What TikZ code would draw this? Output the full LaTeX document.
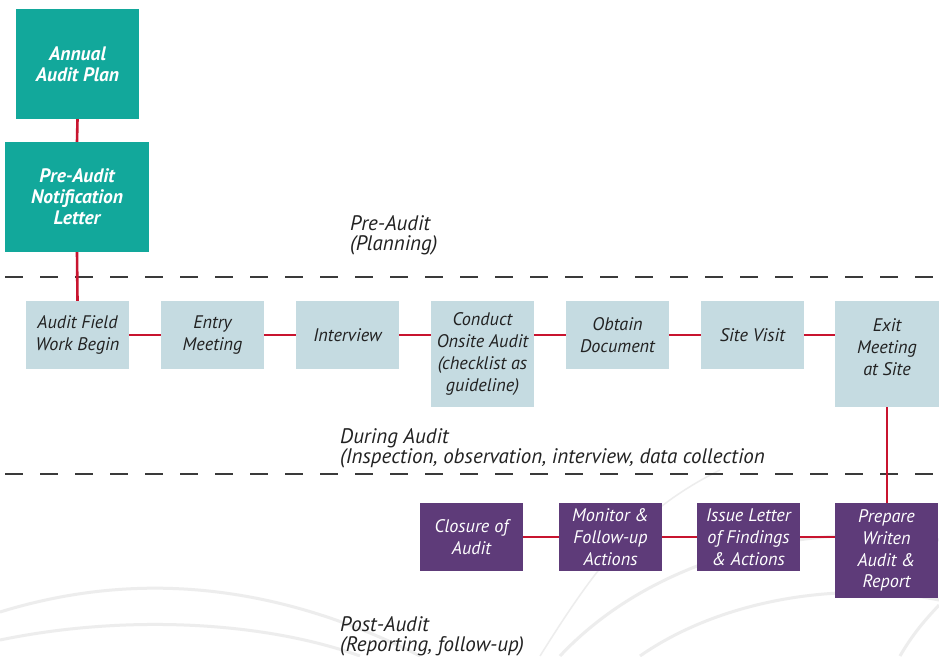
\documentclass[tikz,border=0pt]{standalone}
\usepackage{fontspec}
\setmainfont{PT Sans}
\definecolor{tealbox}{HTML}{12A89B}
\definecolor{bluebox}{HTML}{C5DBE1}
\definecolor{purplebox}{HTML}{5E3B79}
\definecolor{redline}{HTML}{C8142F}
\definecolor{dashgray}{HTML}{3A3A3A}
\definecolor{labelgray}{HTML}{222222}
\definecolor{swirl}{HTML}{EDEDED}
\begin{document}
\begin{tikzpicture}[x=1pt,y=-1pt,
  boxfont/.style={font=\fontsize{18.2}{21.8}\selectfont\itshape},
  tealstep/.style={fill=tealbox, text=white, align=center, inner sep=0pt,
     font=\fontsize{19.5}{21}\selectfont\bfseries\itshape},
  bluestep/.style={fill=bluebox, text=labelgray, align=center, inner sep=0pt,
     minimum width=103pt, minimum height=68pt, boxfont},
  purplestep/.style={fill=purplebox, text=white, align=center, inner sep=0pt,
     minimum width=103pt, minimum height=68pt, boxfont},
  link/.style={draw=redline, line width=2.6pt},
  phase/.style={dashgray, line width=1.4pt, dash pattern=on 18pt off 17pt},
  phaselabel/.style={anchor=north west, align=left, inner sep=0pt, text=labelgray,
     font=\fontsize{21}{20.5}\selectfont\itshape},
  swirlline/.style={draw=swirl, line width=3pt}
]
\useasboundingbox (0,0) rectangle (939,656);
\fill[white] (0,0) rectangle (939,656);

% faint decorative background swirls
\draw[swirlline] (0,612) .. controls (120,575) and (260,575) .. (420,656);
\draw[swirlline] (0,640) .. controls (120,615) and (260,620) .. (360,656);
\draw[swirlline, line width=1.5pt] (540,656) .. controls (600,560) and (640,510) .. (720,470);
\draw[swirlline] (560,656) .. controls (650,560) and (800,520) .. (939,540);
\draw[swirlline] (640,656) .. controls (720,600) and (840,580) .. (939,600);
\draw[swirlline] (900,656) .. controls (915,630) and (930,615) .. (939,605);

% dashed phase separators
\draw[phase] (5,277) -- (935,277);
\draw[phase] (5,474) -- (935,474);

% pre-audit
\node[tealstep, minimum width=123pt, minimum height=110pt] (plan) at (77.5,64) {Annual\\Audit Plan};
\node[tealstep, minimum width=144pt, minimum height=110pt] (letter) at (77,197) {Pre-Audit\\Notification\\Letter};

% during audit
\node[bluestep] (a1) at (77.5,335) {Audit Field\\Work Begin};
\node[bluestep] (a2) at (212.5,335) {Entry\\Meeting};
\node[bluestep] (a3) at (347.5,335) {Interview};
\node[bluestep, minimum height=106pt] (a4) at (482.5,354) {Conduct\\Onsite Audit\\(checklist as\\guideline)};
\node[bluestep] (a5) at (617.5,335) {Obtain\\Document};
\node[bluestep] (a6) at (752.5,335) {Site Visit};
\node[bluestep, minimum width=104pt, minimum height=106pt] (a7) at (887,354) {};
\node[align=center, inner sep=0pt, text=labelgray, boxfont] (a7t) at (887,347) {Exit\\Meeting\\at Site};

% post audit
\node[purplestep] (p1) at (471.5,537) {Closure of\\Audit};
\node[purplestep] (p2) at (610.5,537) {Monitor \&\\Follow-up\\Actions};
\node[purplestep] (p3) at (748.5,537) {Issue Letter\\of Findings\\\& Actions};
\node[purplestep, minimum height=95pt] (p4) at (886.5,550.5) {Prepare\\Writen\\Audit \&\\Report};

% connectors
\draw[link] (plan.south) -- (letter.north);
\draw[link] (letter.south) -- (a1.north);
\draw[link] (a1) -- (a2);
\draw[link] (a2) -- (a3);
\draw[link] (a3.east) -- (a3.east -| a4.west);
\draw[link] (a4.east |- a5.west) -- (a5.west);
\draw[link] (a5) -- (a6);
\draw[link] (a6.east) -- (a6.east -| a7.west);
\draw[link] (a7.south) -- (a7.south |- p4.north);
\draw[link] (p1) -- (p2);
\draw[link] (p2) -- (p3);
\draw[link] (p3.east) -- (p3.east -| p4.west);

% phase labels
\node[phaselabel] (lpre) at (350,215) {Pre-Audit\\(Planning)};
\node[phaselabel] (ldur) at (340,428) {During Audit\\(Inspection, observation, interview, data collection};
\node[phaselabel] (lpost) at (340,616) {Post-Audit\\(Reporting, follow-up)};
\end{tikzpicture}
\end{document}
